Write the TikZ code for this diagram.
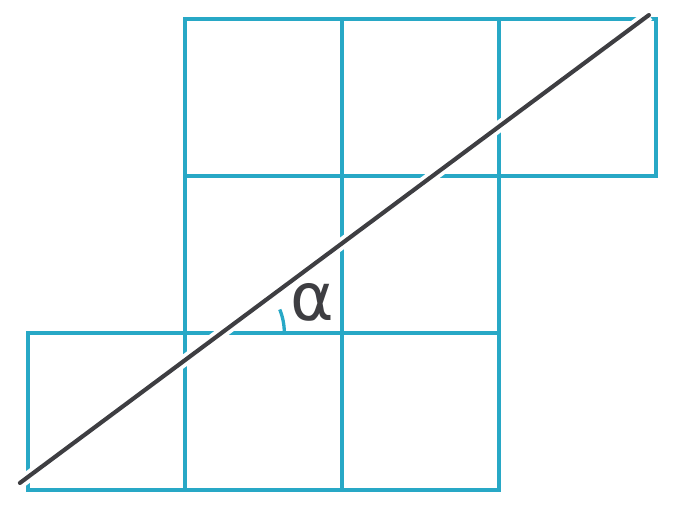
\documentclass[tikz,border=0pt]{standalone}
\usepackage{amsmath,amssymb}
\usepackage{fontspec}
\newfontfamily\anglefont{DejaVu Sans}
\usepackage{tikz}
\usetikzlibrary{positioning,calc}
\definecolor{gridcyan}{RGB}{40,168,198}
\definecolor{slantgray}{RGB}{62,62,66}

\begin{document}
\begin{tikzpicture}[x=2cm,y=2cm,
  cell/.style={draw=gridcyan,line width=1.5pt},
  slant/.style={draw=slantgray,line width=1.5pt,line cap=round}]
\useasboundingbox (-0.178,-0.108) rectangle (4.185,3.121);
\foreach \i/\j in {0/0,1/0,2/0,1/1,2/1,1/2,2/2,3/2} {
  \draw[cell] (\i,\j) rectangle ++(1,1);
}
\coordinate (start) at (-0.051,0.045);
\coordinate (end) at (3.955,3.025);
\draw[white,line width=4.2pt] (start) -- (end);
\draw[slant] (start) -- (end);
\coordinate (vertex) at (1.233,1);
\draw[gridcyan,line width=1.2pt] ($(vertex)+(0.40,0)$) arc (0:22:0.40);
\node[text=slantgray] (alpha) at (1.81,1.195) {\fontsize{24}{28}\selectfont\anglefont α};
\end{tikzpicture}
\end{document}
